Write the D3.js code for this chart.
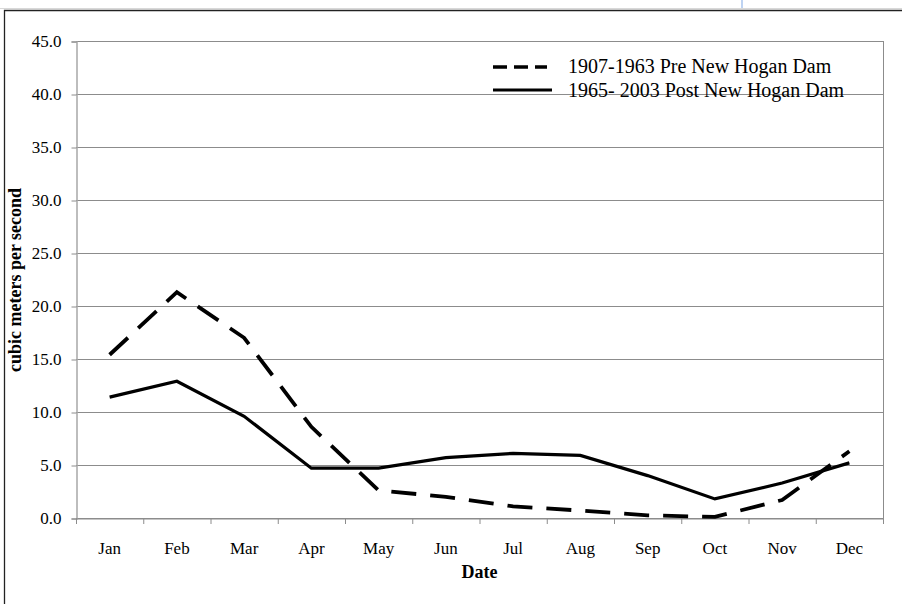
<!DOCTYPE html>
<html>
<head>
<meta charset="utf-8">
<script src="https://cdn.jsdelivr.net/npm/d3@7"></script>
<style>
  body { margin: 0; background: #fff; }
  svg text { font-family: "Liberation Serif", "Times New Roman", serif; fill: #000; }
</style>
</head>
<body>
<div id="chart"></div>
<script>
// monthly mean flow, cubic meters per second
var months = ["Jan", "Feb", "Mar", "Apr", "May", "Jun", "Jul", "Aug", "Sep", "Oct", "Nov", "Dec"];
var preDam = [15.4, 21.3, 17.0, 8.6, 2.6, 2.0, 1.1, 0.7, 0.25, 0.1, 1.7, 6.3];
var postDam = [11.4, 12.9, 9.6, 4.7, 4.7, 5.7, 6.1, 5.9, 4.0, 1.8, 3.3, 5.2];
var yTicks = [0, 5, 10, 15, 20, 25, 30, 35, 40, 45];
var seriesNames = ["1907-1963 Pre New Hogan Dam", "1965- 2003 Post New Hogan Dam"];

var W = 902, H = 604;
var svg = d3.select("#chart").append("svg").attr("width", W).attr("height", H);

// outer frame of the chart object
svg.append("line").attr("x1", 742).attr("x2", 742).attr("y1", 0).attr("y2", 9)
  .attr("stroke", "#a9c4ee").attr("stroke-width", 1.5);
svg.append("line").attr("x1", 0).attr("x2", W).attr("y1", 8.5).attr("y2", 8.5)
  .attr("stroke", "#d8d8d8").attr("stroke-width", 1);
svg.append("path").attr("d", "M4.5," + H + "V10.5H" + W)
  .attr("fill", "none").attr("stroke", "#222").attr("stroke-width", 1.3);

// plot area edges (window.top is taken, so prefixed names)
var pLeft = 76, pRight = 883, pTop = 41, pBottom = 518;

var x = d3.scaleBand().domain(months).range([pLeft, pRight]);
var y = d3.scaleLinear().domain([0, 45]).range([pBottom, pTop]);

// gridlines
svg.append("g").selectAll("line").data(yTicks).join("line")
  .attr("x1", pLeft).attr("x2", pRight)
  .attr("y1", d => y(d) + 0.5).attr("y2", d => y(d) + 0.5)
  .attr("stroke", "#8c8c8c").attr("stroke-width", 1);

// right side of plot border
svg.append("line").attr("x1", pRight + 0.5).attr("x2", pRight + 0.5).attr("y1", pTop).attr("y2", pBottom)
  .attr("stroke", "#8c8c8c");

// y axis
var yAxis = svg.append("g").attr("transform", "translate(" + (pLeft + 0.5) + ",0.5)")
  .call(d3.axisLeft(y).tickValues(yTicks).tickFormat(d3.format(".1f")).tickSize(5).tickPadding(10));
yAxis.select(".domain").attr("stroke", "#a8a8a8").attr("stroke-width", 1.5);
yAxis.selectAll(".tick line").attr("stroke", "#8c8c8c");
yAxis.selectAll("text").style("font-size", "17px")
  .style("font-family", "'Liberation Serif', serif");

// x axis: ticks on category boundaries
var xAxis = svg.append("g").attr("transform", "translate(0," + (pBottom + 0.5) + ")")
  .call(d3.axisBottom(x).tickSize(0).tickPadding(23));
xAxis.select(".domain").attr("stroke", "#8c8c8c");
xAxis.selectAll("text").style("font-size", "17px")
  .style("font-family", "'Liberation Serif', serif");
svg.append("g").selectAll("line").data(months).join("line")
  .attr("x1", d => x(d) + 0.5).attr("x2", d => x(d) + 0.5)
  .attr("y1", pBottom).attr("y2", pBottom + 6)
  .attr("stroke", "#8c8c8c");
svg.append("line").attr("x1", pRight + 0.5).attr("x2", pRight + 0.5)
  .attr("y1", pBottom).attr("y2", pBottom + 6).attr("stroke", "#8c8c8c");

// axis titles
svg.append("text").attr("x", (pLeft + pRight) / 2).attr("y", 578)
  .attr("text-anchor", "middle").style("font-size", "18px").style("font-weight", "bold")
  .text("Date");
svg.append("text").attr("transform", "translate(21,280) rotate(-90)")
  .attr("text-anchor", "middle").style("font-size", "18px").style("font-weight", "bold")
  .text("cubic meters per second");

// series lines
var line = d3.line().x((d, i) => x(months[i]) + x.bandwidth() / 2).y(d => y(d));

svg.append("path").datum(postDam).attr("d", line)
  .attr("fill", "none").attr("stroke", "#000").attr("stroke-width", 3.2)
  .attr("stroke-linejoin", "miter");
svg.append("path").datum(preDam).attr("d", line)
  .attr("fill", "none").attr("stroke", "#000").attr("stroke-width", 3.8)
  .attr("stroke-dasharray", "25,14");

// legend
var legend = svg.append("g");
legend.append("line").attr("x1", 493).attr("x2", 547).attr("y1", 67).attr("y2", 67)
  .attr("stroke", "#000").attr("stroke-width", 3.5).attr("stroke-dasharray", "14,7");
legend.append("line").attr("x1", 493).attr("x2", 552).attr("y1", 90).attr("y2", 90)
  .attr("stroke", "#000").attr("stroke-width", 3);
legend.selectAll("text").data(seriesNames).join("text")
  .attr("x", 568).attr("y", (d, i) => 73 + i * 23.5)
  .style("font-size", "20px")
  .text(d => d);
</script>
</body>
</html>
